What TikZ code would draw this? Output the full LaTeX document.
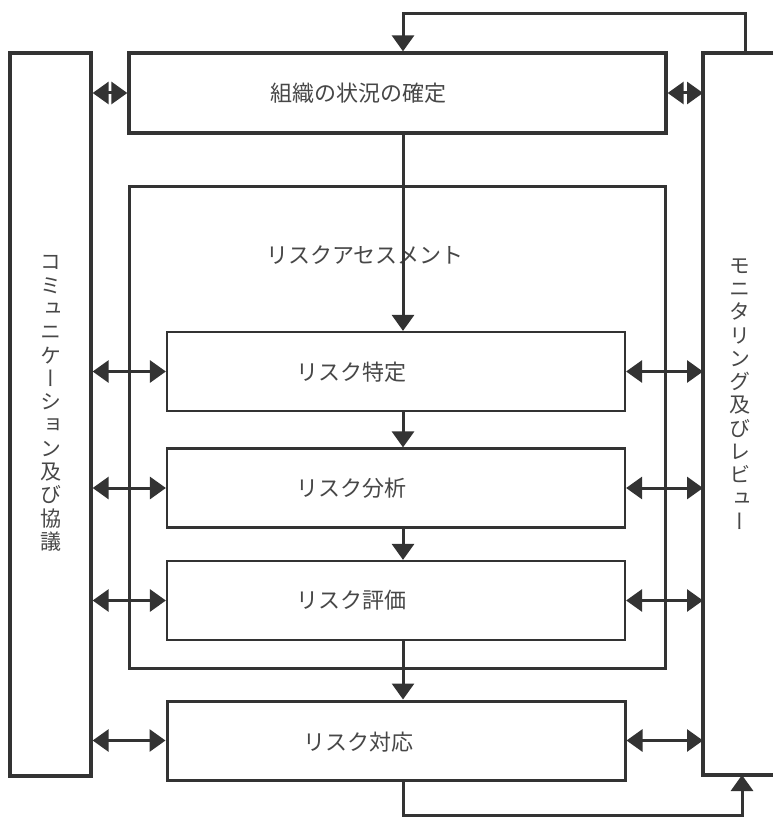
\documentclass[tikz,border=0pt]{standalone}
\usepackage{fontspec}
\setmainfont{Noto Sans CJK JP}
\newfontfamily\vfont[RawFeature=+vert]{Noto Sans CJK JP}
\usetikzlibrary{arrows.meta}
\definecolor{ink}{HTML}{333333}
\definecolor{txt}{HTML}{474747}
\begin{document}
\begin{tikzpicture}[x=1pt,y=-1pt,
  box/.style={draw=ink, line width=3.3pt, inner sep=0pt},
  subbox/.style={draw=ink, line width=2.2pt, inner sep=0pt, minimum width=458pt, minimum height=79pt},
  lbl/.style={text=txt, font=\fontsize{22}{26}\selectfont, inner sep=0pt},
  vlbl/.style={text=txt, font=\vfont\fontsize{21}{23.3}\selectfont, align=center, inner sep=0pt},
  arr/.style={draw=ink, line width=3pt, -{Triangle[length=16pt,width=22pt]}},
  darr/.style={draw=ink, line width=3pt, {Triangle[length=16pt,width=22pt]}-{Triangle[length=16pt,width=22pt]}},
]
\useasboundingbox[fill=white] (0,0) rectangle (773,818);

% boxes
\node[box, minimum width=537pt, minimum height=80pt] (ctx) at (397.5,93) {};
\node[box, line width=3pt, minimum width=536pt, minimum height=481pt] (assess) at (397,427.5) {};
\node[subbox] (ident) at (396,371.5) {};
\node[subbox] (anal) at (396,488) {};
\node[subbox] (eval) at (396,600.5) {};
\node[box, line width=3pt, minimum width=458pt, minimum height=79pt] (resp) at (396,740.5) {};
\node[box, minimum width=81pt, minimum height=723pt] (comm) at (50.5,414.5) {};

% right (monitoring) box, open to the right edge
\coordinate (monNW) at (703,53);
\coordinate (monSW) at (703,775);
\coordinate (monNE) at (773,53);
\coordinate (monSE) at (773,775);
\draw[ink, line width=3.3pt] (monNE) -- (monNW) -- (monSW) -- (monSE);

% texts
\node[lbl] (ctxT) at (358,93) {組織の状況の確定};
\node[lbl] (assT) at (365,255) {リスクアセスメント};
\node[lbl] (identT) at (351,372) {リスク特定};
\node[lbl] (analT) at (351,488) {リスク分析};
\node[lbl] (evalT) at (351,600) {リスク評価};
\node[lbl] (respT) at (358,742) {リスク対応};
\node[vlbl] (commT) at (51,403.5) {コ\\ミ\\ュ\\ニ\\ケ\\ー\\シ\\ョ\\ン\\及\\び\\協\\議};
\node[vlbl] (monT) at (740,394) {モ\\ニ\\タ\\リ\\ン\\グ\\及\\び\\レ\\ビ\\ュ\\ー};

% main flow
\coordinate (spine) at (403,0);
\draw[arr] (ctx.south -| spine) -- (ident.north -| spine);
\draw[arr] (ident.south -| spine) -- (anal.north -| spine);
\draw[arr] (anal.south -| spine) -- (eval.north -| spine);
\draw[arr] (eval.south -| spine) -- (resp.north -| spine);

% feedback loops
\coordinate (montop) at (745,53);
\coordinate (lt) at (403,14);
\draw[arr] (montop) |- (lt) -- (ctx.north -| spine);
\coordinate (monbot) at (742,775);
\coordinate (lb) at (742,815);
\draw[arr] (resp.south -| spine) |- (lb) -- (monbot);

% two-way links
\draw[darr] (comm.east |- ctx) -- (ctx.west);
\draw[darr] (ctx.east) -- (monNW |- ctx);
\foreach \n in {ident,anal,eval,resp}{
  \draw[darr] (comm.east |- \n) -- (\n.west);
  \draw[darr] (\n.east) -- (monNW |- \n);
}
\end{tikzpicture}
\end{document}
